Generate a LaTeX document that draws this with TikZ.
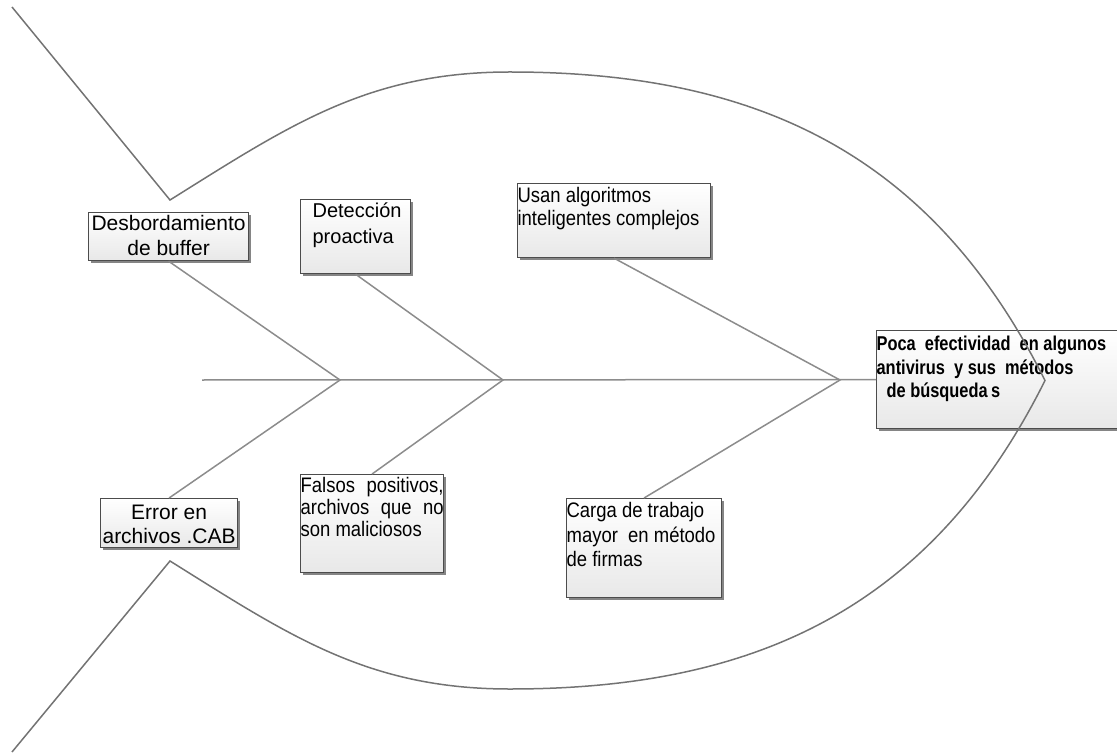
\documentclass[tikz,border=0pt]{standalone}
\usepackage{fontspec}
\setmainfont{Liberation Sans}
\newfontfamily\narrowfont[FakeStretch=0.88]{Liberation Sans}
\newfontfamily\headfont[FakeStretch=0.82]{Liberation Sans}
\usetikzlibrary{shadows}

% fixed size text box: width, height, text
\newcommand{\boxtxt}[3]{\parbox[c][#2][t]{#1}{#3}}

\begin{document}
\begin{tikzpicture}[x=0.5pt, y=-0.5pt,
  cause/.style={draw=black!70, line width=0.6pt, top color=white, bottom color=black!9,
    drop shadow={shadow xshift=1.2pt, shadow yshift=-1.2pt, fill=black!60, opacity=0.8},
    inner sep=0pt, anchor=north west, font=\fontsize{10.5}{12.5}\selectfont},
  bone/.style={draw=black!45, line width=0.75pt},
  outline/.style={draw=black!55, line width=0.75pt}]
\useasboundingbox (0,0) rectangle (1117,753);
\clip (0,0) rectangle (1117,753);

% Joints on the spine
\coordinate (tail) at (202,380);
\coordinate (j1) at (340,380);
\coordinate (j2) at (503,380);
\coordinate (j3) at (840,380);

% Causes, top row
\node[cause] (desb) at (88,212)
  {\boxtxt{80pt}{24pt}{\centering\rule{0pt}{9pt}Desbordamiento\\de buffer}};
\node[cause] (detec) at (300,199)
  {\boxtxt{55pt}{37pt}{\fontsize{10}{13}\selectfont\raggedright\leftskip=6pt\rule{0pt}{9pt}Detección\\proactiva}};
\node[cause] (usan) at (517,183)
  {\boxtxt{96.5pt}{37pt}{\narrowfont\fontsize{10.5}{11.5}\selectfont\raggedright\rule{0pt}{9.5pt}Usan algoritmos\\inteligentes complejos}};

% Causes, bottom row
\node[cause] (error) at (100,498)
  {\boxtxt{68.5pt}{24.5pt}{\centering\fontsize{10.5}{12}\selectfont\rule{0pt}{10.5pt}Error en\\archivos .CAB}};
\node[cause] (falsos) at (300,474)
  {\boxtxt{71.5pt}{49pt}{\narrowfont\fontsize{10.5}{11}\selectfont\raggedright\makebox[\linewidth][s]{\rule{0pt}{8.8pt}Falsos positivos,}\\\makebox[\linewidth][s]{archivos que no}\\son maliciosos}};
\node[cause] (carga) at (566,498)
  {\boxtxt{77.5pt}{49.5pt}{\narrowfont\fontsize{10.5}{12.25}\selectfont\raggedright\rule{0pt}{9.5pt}Carga de trabajo\\mayor\ \ en método\\de firmas}};

% Effect
\node[cause] (poca) at (876,330)
  {\boxtxt{126pt}{49pt}{\headfont\bfseries\fontsize{10}{11.75}\selectfont\raggedright\rule{0pt}{10pt}Poca\ \ efectividad\ \ en algunos\\antivirus\ \ y sus\ \ métodos\\\hspace*{5pt}de búsqueda\,s}};

% Spine and bones
\draw[bone] (tail) -- (poca.west);
\draw[bone] (desb.south) -- (j1) -- (error.north);
\draw[bone] (detec.south) -- (j2) -- (falsos.north);
\draw[bone] (usan.south) -- (j3) -- (carga.north);

% Fish outline
\coordinate (fintop) at (170,200);
\coordinate (finbot) at (170,561);
\coordinate (nose) at (1045,380.5);
\draw[outline] (12,7) -- (fintop)
  .. controls (290,125) and (368,72) .. (510,72)
  .. controls (752,72) and (930,150) .. (nose)
  .. controls (930,611) and (752,689) .. (510,689)
  .. controls (368,689) and (290,636) .. (finbot) -- (12,752);

\end{tikzpicture}
\end{document}
